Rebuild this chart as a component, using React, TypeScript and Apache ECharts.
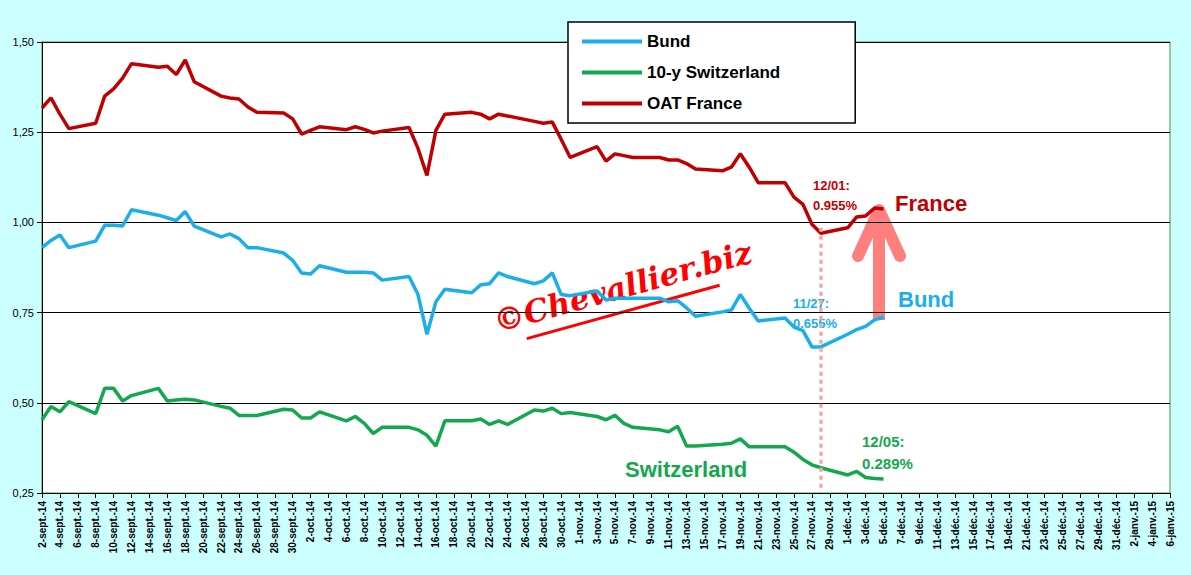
import React, { useEffect, useRef } from "react";
import * as echarts from "echarts";

const monthNames = ["janv.", "févr.", "mars", "avr.", "mai", "juin", "juil.", "août", "sept.", "oct.", "nov.", "déc."];
// Trading-day values, 2 Sep 2014 – 5 Dec 2014
const france = [1.317, 1.345, 1.3, 1.26, 1.275, 1.35, 1.37, 1.4, 1.44, 1.43, 1.433, 1.41, 1.45, 1.39, 1.35, 1.345, 1.342, 1.32, 1.305, 1.303, 1.287, 1.245, 1.255, 1.265, 1.257, 1.265, 1.258, 1.248, 1.253, 1.263, 1.205, 1.13, 1.255, 1.3, 1.305, 1.3, 1.287, 1.3, 1.295, 1.28, 1.275, 1.278, 1.23, 1.18, 1.21, 1.17, 1.19, 1.185, 1.18, 1.18, 1.173, 1.173, 1.163, 1.148, 1.143, 1.153, 1.19, 1.153, 1.11, 1.11, 1.07, 1.05, 0.995, 0.97, 0.985, 1.015, 1.018, 1.04, 1.037];
const bund = [0.93, 0.95, 0.965, 0.93, 0.948, 0.992, 0.992, 0.99, 1.035, 1.02, 1.013, 1.005, 1.03, 0.99, 0.96, 0.968, 0.955, 0.93, 0.93, 0.915, 0.895, 0.86, 0.857, 0.88, 0.862, 0.862, 0.862, 0.86, 0.84, 0.85, 0.8, 0.69, 0.78, 0.815, 0.805, 0.827, 0.83, 0.86, 0.85, 0.83, 0.838, 0.86, 0.8, 0.797, 0.81, 0.785, 0.79, 0.79, 0.79, 0.79, 0.78, 0.783, 0.763, 0.74, 0.752, 0.757, 0.8, 0.762, 0.727, 0.735, 0.71, 0.7, 0.655, 0.655, 0.69, 0.703, 0.712, 0.73, 0.737];
const swiss = [0.453, 0.49, 0.475, 0.503, 0.47, 0.54, 0.54, 0.505, 0.52, 0.54, 0.505, 0.508, 0.51, 0.508, 0.49, 0.485, 0.465, 0.465, 0.465, 0.482, 0.48, 0.458, 0.458, 0.475, 0.45, 0.462, 0.443, 0.415, 0.432, 0.432, 0.425, 0.41, 0.38, 0.45, 0.45, 0.455, 0.44, 0.45, 0.44, 0.48, 0.477, 0.485, 0.47, 0.473, 0.462, 0.453, 0.465, 0.443, 0.432, 0.425, 0.42, 0.435, 0.38, 0.38, 0.385, 0.388, 0.4, 0.378, 0.378, 0.378, 0.363, 0.343, 0.328, 0.32, 0.3, 0.31, 0.293, 0.29, 0.289];

const categories: string[] = [];
const weekday: boolean[] = [];
{
  const d = new Date(2014, 8, 2);
  const end = new Date(2015, 0, 6);
  while (d <= end) {
    categories.push(`${d.getDate()}-${monthNames[d.getMonth()]}-${String(d.getFullYear()).slice(2)}`);
    const wd = d.getDay();
    weekday.push(wd !== 0 && wd !== 6);
    d.setDate(d.getDate() + 1);
  }
}
function spread(vals: number[]) {
  let k = 0;
  return categories.map((_, i) => (weekday[i] && k < vals.length ? vals[k++] : null));
}

export default function App() {
  const ref = useRef<HTMLDivElement>(null);
  useEffect(() => {
    const chart = echarts.init(ref.current!, undefined, { renderer: "svg" });
    const font = "Arial, 'Liberation Sans', sans-serif";
    const lineSeries = (name: string, color: string, vals: number[], extra: any = {}) => ({
      name, type: "line", data: spread(vals), connectNulls: true, showSymbol: false, symbol: "none",
      lineStyle: { color, width: 3.5 }, itemStyle: { color }, ...extra,
    });
    chart.setOption({
      animation: false,
      backgroundColor: "#ccffff",
      grid: { left: 42, right: 21, top: 42, bottom: 82, show: true, backgroundColor: "#fff", borderColor: "#3a9a3a", borderWidth: 1 },
      legend: {
        orient: "vertical", left: 568, top: 22, itemWidth: 60, itemHeight: 4, itemGap: 14, icon: "rect",
        padding: [11, 75, 11, 14],
        backgroundColor: "#fff", borderColor: "#000", borderWidth: 1.5,
        textStyle: { fontFamily: font, fontWeight: "bold", fontSize: 17, color: "#000" },
        data: ["Bund", "10-y Switzerland", "OAT France"],
      },
      xAxis: {
        type: "category", data: categories, boundaryGap: false,
        axisLine: { lineStyle: { color: "#000" } },
        axisTick: { interval: 1, lineStyle: { color: "#000" } },
        axisLabel: { interval: 1, rotate: 90, fontFamily: font, fontWeight: "bold", fontSize: 10, color: "#000" },
      },
      yAxis: {
        type: "value", min: 0.25, max: 1.5, interval: 0.25,
        axisLine: { show: true, lineStyle: { color: "#000" } }, axisTick: { show: true },
        splitLine: { lineStyle: { color: "#000" } },
        axisLabel: { fontFamily: font, fontSize: 11, color: "#000", formatter: (v: number) => v.toFixed(2).replace(".", ",") },
      },
      series: [
        lineSeries("Bund", "#1aaeea", bund),
        lineSeries("10-y Switzerland", "#13a84e", swiss),
        lineSeries("OAT France", "#c00000", france, {
          markLine: {
            silent: true, symbol: "none", label: { show: false },
            lineStyle: { color: "#f0a8a8", type: [4, 4], width: 3.5 },
            data: [[{ coord: ["28-nov.-14", 0.985] }, { coord: ["28-nov.-14", 0.25] }]],
          },
        }),
      ],
      graphic: [
        { type: "rect", shape: { x: 873, y: 222, width: 12, height: 98 }, style: { fill: "#ff7f7f" } },
        { type: "polyline", shape: { points: [[858, 256], [879, 210], [900, 256]] }, style: { stroke: "#ff7f7f", lineWidth: 12, fill: null, lineCap: "round", lineJoin: "round" } },
        { type: "text", x: 895, y: 192, style: { text: "France", fill: "#c00000", font: `bold 22px ${font}` } },
        { type: "text", x: 898, y: 288, style: { text: "Bund", fill: "#1aaeea", font: `bold 22px ${font}` } },
        { type: "text", x: 625, y: 458, style: { text: "Switzerland", fill: "#13a84e", font: `bold 22px ${font}` } },
        { type: "text", x: 813, y: 175, style: { text: "12/01:\n0.955%", fill: "#c00000", font: `bold 13px ${font}`, lineHeight: 20 } },
        { type: "text", x: 793, y: 293, style: { text: "11/27:\n0.655%", fill: "#1aaeea", font: `bold 13px ${font}`, lineHeight: 20 } },
        { type: "text", x: 862, y: 430, style: { text: "12/05:\n0.289%", fill: "#13a84e", font: `bold 15px ${font}`, lineHeight: 22 } },
        {
          type: "group", x: 522, y: 340, rotation: 0.27,
          children: [
            { type: "text", x: -22, y: -40, style: { text: "©Chevallier.biz", fill: "#ff0000", stroke: "#fff", lineWidth: 1, font: `italic bold 31px 'DejaVu Serif', serif` } },
            { type: "line", shape: { x1: 5, y1: 0, x2: 205, y2: 0 }, style: { stroke: "#ff0000", lineWidth: 3 } },
          ],
        },
      ],
    });
    return () => chart.dispose();
  }, []);
  return <div ref={ref} style={{ width: 1191, height: 575, position: "absolute", left: 0, top: 0 }} />;
}
